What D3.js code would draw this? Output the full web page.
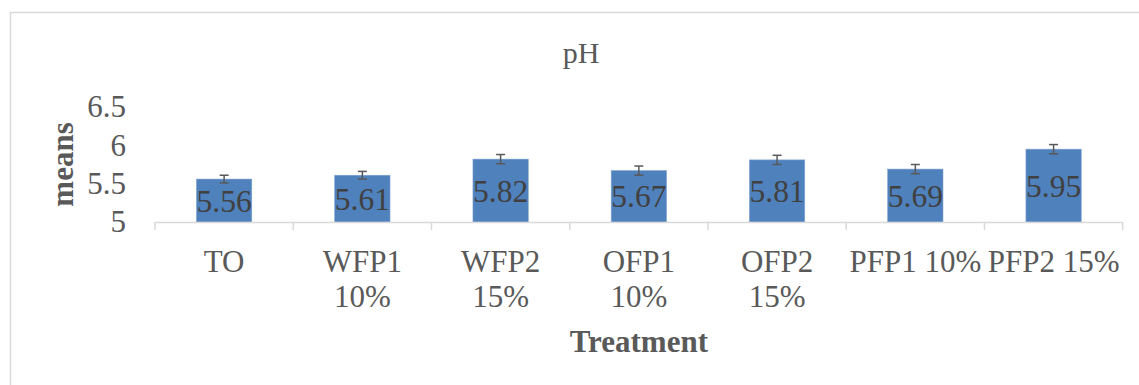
<!DOCTYPE html>
<html>
<head>
<meta charset="utf-8">
<script src="https://cdn.jsdelivr.net/npm/d3@7"></script>
<style>
  body { margin: 0; background: #fff; }
  svg { display: block; font-family: "Liberation Serif", "Times New Roman", serif; }
</style>
</head>
<body>
<div id="chart"></div>
<script>
// chart data
const categories = ["TO", "WFP1 10%", "WFP2 15%", "OFP1 10%", "OFP2 15%", "PFP1 10%", "PFP2 15%"];
const tickLines = [["TO"], ["WFP1", "10%"], ["WFP2", "15%"], ["OFP1", "10%"], ["OFP2", "15%"], ["PFP1 10%"], ["PFP2 15%"]];
const means = [5.56, 5.61, 5.82, 5.67, 5.81, 5.69, 5.95];
const errors = [0.05, 0.05, 0.06, 0.06, 0.06, 0.06, 0.06];
const yTicks = [5, 5.5, 6, 6.5];

const W = 1139, H = 385;
const plot = { left: 155, right: 1122.7, top: 107, bottom: 222 };

const svg = d3.select("#chart")
  .append("svg")
  .attr("width", W)
  .attr("height", H)
  .style("font-family", "Liberation Serif, serif");

// outer chart border
svg.append("rect")
  .attr("x", 10.5)
  .attr("y", 12.5)
  .attr("width", 1140)
  .attr("height", 400)
  .attr("fill", "none")
  .attr("stroke", "#d9d9d9")
  .attr("stroke-width", 1.5);

const x = d3.scaleBand()
  .domain(categories)
  .range([plot.left, plot.right])
  .paddingInner(0.6)
  .paddingOuter(0.3);

const y = d3.scaleLinear()
  .domain([5, 6.5])
  .range([plot.bottom, plot.top]);

// title
svg.append("text")
  .attr("x", 581)
  .attr("y", 63)
  .attr("text-anchor", "middle")
  .style("font-size", "30px")
  .style("fill", "#595959")
  .text("pH");

// y axis tick labels
svg.append("g")
  .attr("transform", `translate(${plot.left - 29},0)`)
  .call(d3.axisLeft(y).tickValues(yTicks).tickFormat(d3.format("")).tickSize(0).tickPadding(0))
  .call(g => g.select(".domain").remove())
  .call(g => g.selectAll(".tick text")
    .style("font-family", "Liberation Serif, serif")
    .style("font-size", "31px")
    .style("fill", "#595959"));

// bars
svg.selectAll(".bar")
  .data(means)
  .enter()
  .append("rect")
  .attr("class", "bar")
  .attr("x", (d, i) => x(categories[i]))
  .attr("y", d => y(d))
  .attr("width", x.bandwidth())
  .attr("height", d => y(5) - y(d))
  .attr("fill", "#4f81bd")
  .attr("stroke", "#7ea1cf")
  .attr("stroke-width", 0.6);

// category axis line + ticks at band boundaries
const step = x.step();
svg.append("line")
  .attr("x1", plot.left).attr("x2", plot.right)
  .attr("y1", plot.bottom + 0.5).attr("y2", plot.bottom + 0.5)
  .attr("stroke", "#d9d9d9")
  .attr("stroke-width", 1.5);

svg.selectAll(".xtick")
  .data(d3.range(categories.length + 1))
  .enter()
  .append("line")
  .attr("x1", i => plot.left + i * step)
  .attr("x2", i => plot.left + i * step)
  .attr("y1", plot.bottom)
  .attr("y2", plot.bottom + 8)
  .attr("stroke", "#d9d9d9")
  .attr("stroke-width", 1.5);

// error bars
const eb = svg.append("g")
  .attr("stroke", "#595959")
  .attr("stroke-width", 1.5);

means.forEach((m, i) => {
  const cx = x(categories[i]) + x.bandwidth() / 2;
  const lo = y(m - errors[i]), hi = y(m + errors[i]);
  eb.append("line").attr("x1", cx).attr("x2", cx).attr("y1", lo).attr("y2", hi);
  eb.append("line").attr("x1", cx - 4.5).attr("x2", cx + 4.5).attr("y1", lo).attr("y2", lo);
  eb.append("line").attr("x1", cx - 4.5).attr("x2", cx + 4.5).attr("y1", hi).attr("y2", hi);
});

// data labels, centered in bar
svg.selectAll(".val")
  .data(means)
  .enter()
  .append("text")
  .attr("x", (d, i) => x(categories[i]) + x.bandwidth() / 2)
  .attr("y", d => (y(d) + y(5)) / 2)
  .attr("dy", "0.35em")
  .attr("text-anchor", "middle")
  .style("font-size", "31.5px")
  .style("fill", "#404040")
  .text(d => d3.format(".2f")(d));

// category labels
const catLabels = svg.selectAll(".cat")
  .data(tickLines)
  .enter()
  .append("text")
  .attr("text-anchor", "middle")
  .style("font-size", "31px")
  .style("fill", "#595959");

catLabels.selectAll("tspan")
  .data((d, i) => d.map(t => ({ t, i })))
  .enter()
  .append("tspan")
  .attr("x", d => x(categories[d.i]) + x.bandwidth() / 2)
  .attr("y", (d, j) => 272 + j * 35)
  .text(d => d.t);

// axis titles
svg.append("text")
  .attr("x", (plot.left + plot.right) / 2)
  .attr("y", 352)
  .attr("text-anchor", "middle")
  .style("font-size", "31px")
  .style("font-weight", "bold")
  .style("fill", "#595959")
  .text("Treatment");

svg.append("text")
  .attr("transform", `translate(73,${(plot.top + plot.bottom) / 2}) rotate(-90)`)
  .attr("text-anchor", "middle")
  .style("font-size", "31px")
  .style("font-weight", "bold")
  .style("fill", "#595959")
  .text("means");
</script>
</body>
</html>
